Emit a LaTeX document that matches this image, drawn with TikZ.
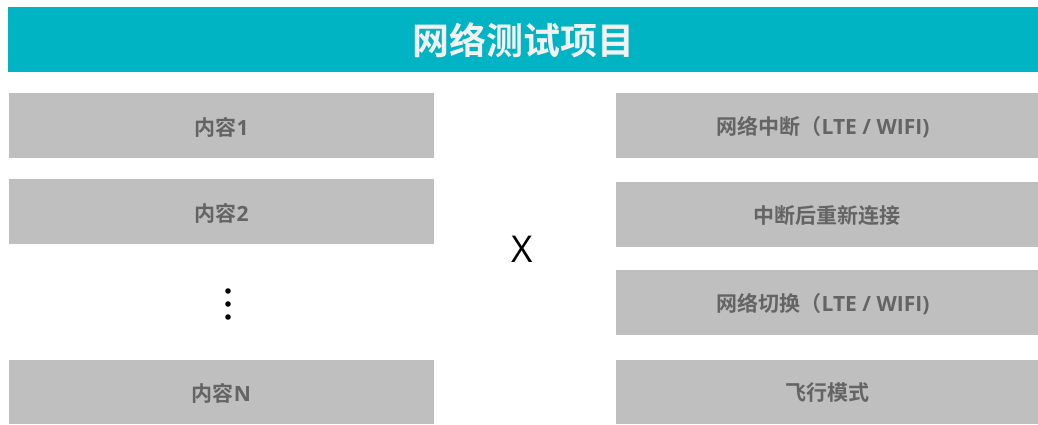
\documentclass[tikz,border=0pt]{standalone}
\usepackage{fontspec}
\setmainfont{Noto Sans CJK SC}[BoldFont={* Bold}]
\newfontfamily\cjkbold{Noto Sans CJK SC Bold}
\newfontfamily\latfont{Open Sans}
\newfontfamily\xfont{Open Sans}
\newcommand{\lt}[1]{{\latfont\bfseries #1}}
\definecolor{titlebg}{RGB}{0,180,195}
\definecolor{boxbg}{RGB}{191,191,191}
\definecolor{boxtext}{RGB}{100,100,100}
\definecolor{titletext}{RGB}{242,242,242}
\tikzset{
  itembox/.style={fill=none, draw=none, inner sep=0pt, font=\cjkbold\fontsize{21}{24}\selectfont, text=boxtext},
}
\begin{document}
\begin{tikzpicture}[x=1pt,y=-1pt]
\useasboundingbox (0,0) rectangle (1038,425);
\fill[white] (0,0) rectangle (1038,425);
% title bar
\fill[titlebg] (8,7) rectangle (1038,72);
\node[font=\cjkbold\fontsize{37}{44}\selectfont, text=titletext] (title) at (523,40) {网络测试项目};
% left boxes
\fill[boxbg] (9,93) rectangle (434,158);
\node[itembox] (l1) at (221.5,127) {内容\lt{1}};
\fill[boxbg] (9,179) rectangle (434,244);
\node[itembox] (l2) at (221.5,213) {内容\lt{2}};
\fill[boxbg] (9,360) rectangle (434,424);
\node[itembox] (ln) at (221.5,393) {内容\lt{N}};
% dots
\fill (228,291) circle (2.8);
\fill (228,304) circle (2.8);
\fill (228,317) circle (2.8);
% X
\node[font=\xfont\fontsize{37}{44}\selectfont] (x) at (522,249) {X};
% right boxes
\fill[boxbg] (616,93) rectangle (1038,158);
\node[itembox] (r1) at (823,127) {网络中断（\lt{LTE / WIFI)}};
\fill[boxbg] (616,182) rectangle (1038,247);
\node[itembox] (r2) at (827,216) {中断后重新连接};
\fill[boxbg] (616,270) rectangle (1038,335);
\node[itembox] (r3) at (823,304) {网络切换（\lt{LTE / WIFI)}};
\fill[boxbg] (616,360) rectangle (1038,424);
\node[itembox] (r4) at (827,393) {飞行模式};
\end{tikzpicture}
\end{document}
